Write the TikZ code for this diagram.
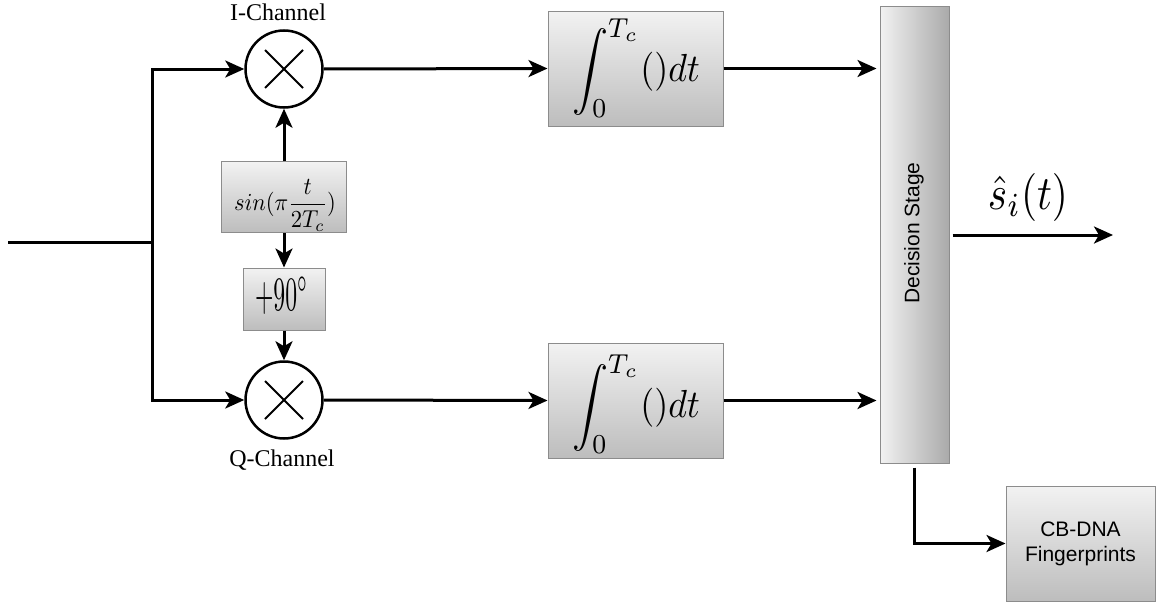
\documentclass[tikz,border=0pt]{standalone}
\usepackage{fontspec}
\usepackage{graphicx}
\newfontfamily\serifA{Liberation Serif}
\newfontfamily\sansA{Liberation Sans}
\usetikzlibrary{arrows.meta}
\definecolor{gtop}{HTML}{F2F2F2}
\definecolor{gbot}{HTML}{BDBDBD}
\definecolor{gbd}{HTML}{8C8C8C}
\newcommand\intexpr{\resizebox*{128pt}{98pt}{$\displaystyle\int_0^{T_c}()dt$}}
\begin{document}
\begin{tikzpicture}[x=1pt,y=-1pt,
  ln/.style={line width=3pt},
  arr/.style={ln,-{Stealth[length=19pt,width=17pt,inset=5pt]}},
  mix/.style={circle,draw,line width=2.5pt,minimum size=77pt,inner sep=0pt,
    path picture={
      \draw[line width=2pt] ([shift={(-19pt,-19pt)}]path picture bounding box.center) -- ([shift={(19pt,19pt)}]path picture bounding box.center);
      \draw[line width=2pt] ([shift={(-19pt,19pt)}]path picture bounding box.center) -- ([shift={(19pt,-19pt)}]path picture bounding box.center);}},
  blk/.style={draw=gbd,line width=1pt,top color=gtop,bottom color=gbot,inner sep=0pt},
  hblk/.style={draw=gbd,line width=1pt,left color=gtop,right color=gbot!90!black,inner sep=0pt},
  txt/.style={inner sep=0pt},
  lab/.style={txt,font=\serifA\fontsize{24}{28}\selectfont}
]
\useasboundingbox (0,0) rectangle (1156,605);
% mixers
\node[mix] (mi) at (284,69) {};
\node[mix] (mq) at (284,400) {};
\node[lab] (il) at (278,12) {I-Channel};
\node[lab] (ql) at (282,460) {Q-Channel};
% oscillator and phase shift
\node[blk,minimum width=125pt,minimum height=71pt] (sin) at (284,197) {};
\node[txt] (sint) at (285,205) {\resizebox*{102pt}{52pt}{$\displaystyle sin(\pi\frac{t}{2T_c})$}};
\node[blk,minimum width=82pt,minimum height=62pt] (p90) at (284,299) {};
\node[txt] (p90t) at (281.5,295.5) {\resizebox*{53pt}{37pt}{$+90^{\circ}$}};
% integrators
\node[blk,minimum width=175pt,minimum height=115pt] (ii) at (635.5,68.5) {};
\node[txt] (iit) at (636,68) {\intexpr};
\node[blk,minimum width=175pt,minimum height=115pt] (iq) at (635.5,400.5) {};
\node[txt] (iqt) at (636,404) {\intexpr};
% decision
\node[hblk,minimum width=69pt,minimum height=457pt] (dec) at (914.5,234.5) {};
\node[txt,rotate=90,font=\sansA\fontsize{21}{25}\selectfont] (dect) at (914,233) {Decision Stage};
\node[txt] (sh) at (1028,197) {\resizebox*{80pt}{48pt}{$\hat{s}_i(t)$}};
\node[blk,minimum width=149pt,minimum height=115pt,align=center,font=\sansA\fontsize{21}{25}\selectfont] (cb) at (1080.5,543.5) {CB-DNA\\Fingerprints};
% coordinates
\coordinate (in) at (8,242.7);
\coordinate (jn) at (152,242.7);
\coordinate (out) at (1113,235);
% connectors
\draw[ln] (in) -- (jn);
\draw[arr] (jn) |- (mi.west);
\draw[arr] (jn) |- (mq.west);
\draw[arr] (sin.north) -- (mi.south);
\draw[arr] (sin.south) -- (p90.north);
\draw[arr] (p90.south) -- (mq.north);
\draw[arr] (mi.east) -- (ii.west);
\draw[arr] (mq.east) -- (iq.west);
\draw[arr,shorten >=3pt] (ii.east) -- (ii.east -| dec.west);
\draw[arr,shorten >=3pt] (iq.east) -- (iq.east -| dec.west);
\draw[arr,shorten <=3pt] (dec.east |- out) -- (out);
\draw[arr,shorten <=4pt] (dec.south) |- (cb.west);
\end{tikzpicture}
\end{document}
